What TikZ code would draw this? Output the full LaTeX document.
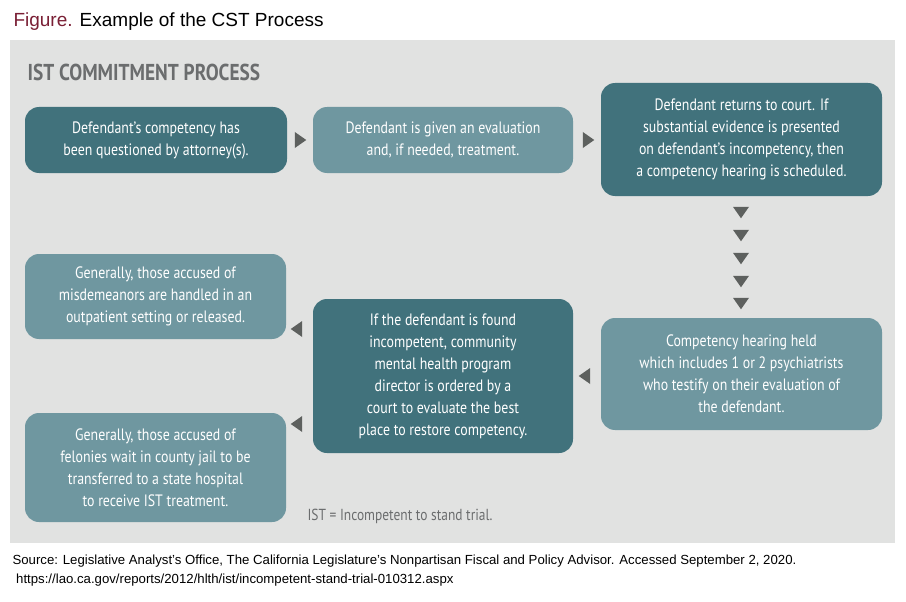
\documentclass[tikz,border=0pt]{standalone}
\usepackage{fontspec}
\setmainfont{Liberation Sans}
\newfontfamily\condfont[FakeStretch=0.84]{PT Sans}
\usetikzlibrary{shapes.geometric}
\definecolor{panelgray}{HTML}{E1E2E1}
\definecolor{darkteal}{HTML}{41727C}
\definecolor{liteteal}{HTML}{6F97A0}
\definecolor{headgray}{HTML}{6B6D6E}
\definecolor{tipgray}{HTML}{5D605E}
\definecolor{maroon}{HTML}{7A1F35}
\tikzset{
  stage/.style={rounded corners=14pt, align=center, text=white,
    font=\condfont\fontsize{16.5}{22}\selectfont, inner sep=0pt},
  dark/.style={stage, fill=darkteal},
  lite/.style={stage, fill=liteteal},
  tip/.style={isosceles triangle, fill=tipgray, inner sep=0pt,
    minimum width=16pt, minimum height=11pt, isosceles triangle apex angle=70},
  tipright/.style={tip, shape border rotate=0},
  tipleft/.style={tip, shape border rotate=180},
  tipdown/.style={tip, shape border rotate=-90}
}
\begin{document}
\begin{tikzpicture}[x=1pt, y=-1pt]
\useasboundingbox (0,0) rectangle (906,602);
\fill[white] (0,0) rectangle (906,602);

% title and panel
\node[anchor=west, font=\fontsize{19}{22}\selectfont] (title) at (10,22)
  {\textcolor{maroon}{Figure.} Example of the CST Process};
\fill[panelgray] (10,40) rectangle (895,543);
\node[anchor=west, text=headgray, font=\condfont\bfseries\fontsize{23}{26}\selectfont]
  (head) at (24,72) {IST COMMITMENT PROCESS};

% stages
\node[dark, minimum width=262pt, minimum height=66pt] (questioned) at (156,140)
  {Defendant’s competency has\\been questioned by attorney(s).};
\node[lite, minimum width=260pt, minimum height=66pt] (evaluation) at (443,140)
  {Defendant is given an evaluation\\and, if needed, treatment.};
\node[dark, minimum width=281pt, minimum height=113pt] (returns) at (741.5,139.5)
  {Defendant returns to court. If\\substantial evidence is presented\\on defendant’s incompetency, then\\a competency hearing is scheduled.};
\node[lite, minimum width=281pt, minimum height=112pt] (hearing) at (741.5,374)
  {Competency hearing held\\which includes 1 or 2 psychiatrists\\who testify on their evaluation of\\the defendant.};
\node[dark, minimum width=260pt, minimum height=154pt] (director) at (443,376)
  {If the defendant is found\\incompetent, community\\mental health program\\director is ordered by a\\court to evaluate the best\\place to restore competency.};
\node[lite, minimum width=261pt, minimum height=85pt] (misdemeanor) at (155.5,296.5)
  {Generally, those accused of\\misdemeanors are handled in an\\outpatient setting or released.};
\node[lite, minimum width=261pt, minimum height=109pt] (felony) at (155.5,467.5)
  {Generally, those accused of\\felonies wait in county jail to be\\transferred to a state hospital\\to receive IST treatment.};

% pointers
\node[tipright] (t1) at (299,140) {};
\node[tipright] (t2) at (587,140) {};
\foreach \y [count=\k] in {211,234,257,280,302}
  \node[tipdown] (d\k) at (741,\y) {};
\node[tipleft] (t3) at (586,376) {};
\node[tipleft] (t4) at (298,329) {};
\node[tipleft] (t5) at (298,424) {};

\node[anchor=west, text=headgray, font=\condfont\fontsize{16}{20}\selectfont]
  (note) at (304,516) {IST = Incompetent to stand trial.};

% source
\node[anchor=north west, align=left, font=\fontsize{13.2}{19}\selectfont] (source) at (9,551)
  {Source: Legislative Analyst’s Office, The California Legislature’s Nonpartisan Fiscal and Policy Advisor. Accessed September 2, 2020.\\
  \ https://lao.ca.gov/reports/2012/hlth/ist/incompetent-stand-trial-010312.aspx};
\end{tikzpicture}
\end{document}
